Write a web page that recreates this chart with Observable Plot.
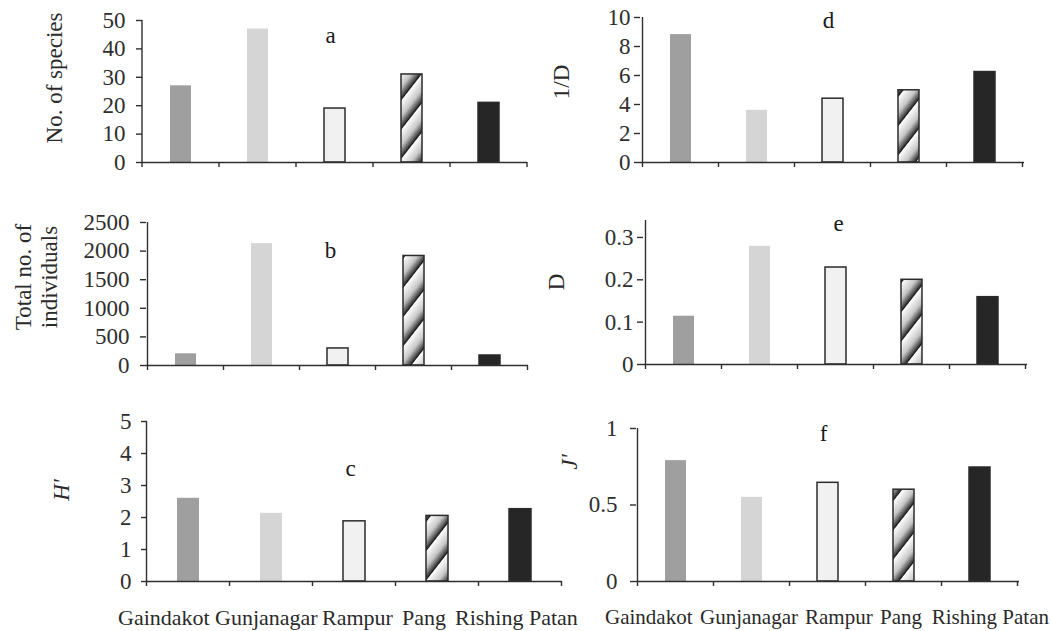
<!DOCTYPE html>
<html>
<head>
<meta charset="utf-8">
<script src="https://cdn.jsdelivr.net/npm/d3@7"></script>
<script src="https://cdn.jsdelivr.net/npm/@observablehq/plot@0.6"></script>
<style>
  body { margin: 0; background: #fff; }
  #chart { position: relative; width: 1051px; height: 631px; overflow: hidden; background: #fff;
           font-family: "Liberation Serif", "Times New Roman", serif; color: #2a2a2a; }
  .panel { position: absolute; }
  .ylab { position: absolute; transform: translate(-50%, -50%) rotate(-90deg); white-space: pre;
          font-size: 23px; line-height: 1.15; text-align: center; }
  .ylab.it { font-style: italic; }
  .xlab { position: absolute; top: 607px; line-height: 1; white-space: nowrap; }
</style>
</head>
<body>
<div id="chart"></div>
<script>
// ---- data ----
const sites = ["Gaindakot", "Gunjanagar", "Rampur", "Pang", "Rishing Patan"];
const speciesCount = [27, 47, 19, 31, 21];
const individualsTotal = [205, 2130, 298, 1915, 175];
const shannonH = [2.6, 2.13, 1.88, 2.05, 2.26];
const inverseSimpson = [8.82, 3.6, 4.4, 4.98, 6.24];
const simpsonD = [0.114, 0.279, 0.229, 0.2, 0.159];
const evennessJ = [0.79, 0.55, 0.645, 0.6, 0.745];

const ticksA = [0, 10, 20, 30, 40, 50];
const ticksB = [0, 500, 1000, 1500, 2000, 2500];
const ticksC = [0, 1, 2, 3, 4, 5];
const ticksD = [0, 2, 4, 6, 8, 10];
const ticksE = [0, 0.1, 0.2, 0.3];
const ticksF = [0, 0.5, 1];

const outlinedSites = ["Rampur", "Pang", "Rishing Patan"];

// ---- styling / layout ----
const baseFills = ["#9f9f9f", "#d5d5d5", "#f1f1f1", null, "#262626"];
const fillsFor = key => baseFills.map(f => f === null ? `url(#hatch-${key})` : f);

const panels = [
  {key: "a", values: speciesCount, domain: [0, 50], ticks: ticksA, label: "No. of species", italic: false,
   box: [0, 0, 540, 190], m: [20, 13, 28, 142], pad: 11, letter: [-4.5, 15], lab: [55, 78]},
  {key: "d", values: inverseSimpson, domain: [0, 10], ticks: ticksD, label: "1/D", italic: false,
   box: [540, 0, 511, 190], m: [17, 27, 28, 100], pad: 4, letter: [-4, 3], lab: [562, 82]},
  {key: "b", values: individualsTotal, domain: [0, 2500], ticks: ticksB, label: "Total no. of\nindividuals", italic: false,
   box: [0, 190, 540, 205], m: [32, 12, 30, 146], pad: 11, letter: [-7, 28], lab: [37, 277]},
  {key: "e", values: simpsonD, domain: [0, 0.34], ticks: ticksE, label: "D", italic: false,
   box: [540, 190, 511, 205], m: [30, 24, 31, 103], pad: 4, letter: [3, 3], lab: [557, 282]},
  {key: "c", values: shannonH, domain: [0, 5], ticks: ticksC, label: "H'", italic: true,
   box: [0, 395, 565, 200], m: [26, 3, 14, 147], pad: 10, letter: [-4.5, 47], lab: [62, 490]},
  {key: "f", values: evennessJ, domain: [0, 1], ticks: ticksF, label: "J'", italic: true,
   box: [565, 395, 486, 200], m: [33, 32, 14, 71], pad: 13, letter: [-4.5, 5], lab: [570, 462]}
];

// left edges of the category names printed under each column (null = flush right)
const xLabelRows = [
  {size: 22, lefts: [118, 215, 322, 402, 455]},
  {size: 21, lefts: [605, 700, 805, 880, null]}
];

const chart = document.getElementById("chart");

// axis line + boundary ticks between categories, derived from the band/linear scales
function categoryTicks(color) {
  return (index, scales) => {
    const x = scales.x;
    const y0 = scales.y(0);
    const dom = x.domain();
    const gap = x.step() - x.bandwidth();
    const g = d3.create("svg:g").attr("stroke", color).attr("stroke-width", 1.4);
    const xs = dom.map(d => x(d) - gap / 2);
    xs.push(x(dom[dom.length - 1]) + x.bandwidth() + gap / 2);
    for (const px of xs) {
      g.append("line").attr("x1", px).attr("x2", px).attr("y1", y0).attr("y2", y0 + 5);
    }
    const [ya, yb] = scales.y.range();
    g.append("line").attr("x1", xs[0]).attr("x2", xs[0]).attr("y1", ya).attr("y2", yb);
    return g.node();
  };
}

for (const p of panels) {
  const data = sites.map((s, i) => ({site: s, value: p.values[i]}));
  const [left, top, w, h] = p.box;
  const [mt, mr, mb, ml] = p.m;
  const svg = Plot.plot({
    width: w, height: h,
    marginTop: mt, marginRight: mr, marginBottom: mb, marginLeft: ml,
    style: {fontFamily: "Liberation Serif, Times New Roman, serif", fontSize: "23px", color: "#2e2e2e", background: "transparent", overflow: "visible"},
    x: {domain: sites, paddingInner: 0.73, paddingOuter: 0.365, axis: null},
    y: {domain: p.domain},
    color: {type: "ordinal", domain: sites, range: fillsFor(p.key)},
    marks: [
      Plot.barY(data, {x: "site", y: "value", fill: "site"}),
      Plot.barY(data.filter(d => outlinedSites.includes(d.site)), {x: "site", y: "value", fill: "none", stroke: "#2b2b2b", strokeWidth: 1.5}),
      Plot.ruleY([0], {stroke: "#2e2e2e", strokeWidth: 1.4}),
      Plot.axisY({ticks: p.ticks, tickSize: 6, tickPadding: p.pad, tickFormat: d3.format("~g"), label: null, fontSize: 23, strokeWidth: 1.4}),
      categoryTicks("#2e2e2e"),
      Plot.text([p.key], {frameAnchor: "top", lineAnchor: "middle", dx: p.letter[0], dy: p.letter[1], fontSize: 23, fill: "#1a1a1a"})
    ]
  });
  d3.select(svg).insert("defs", ":first-child").html(`
    <linearGradient id="grad-${p.key}" x1="0" y1="0" x2="0" y2="1">
      <stop offset="0" stop-color="#ffffff"/>
      <stop offset="0.55" stop-color="#c6c6c6"/>
      <stop offset="0.88" stop-color="#4a4a4a"/>
      <stop offset="1" stop-color="#0a0a0a"/>
    </linearGradient>
    <pattern id="hatch-${p.key}" patternUnits="userSpaceOnUse" width="40" height="18" patternTransform="rotate(-52)">
      <rect width="40" height="18" fill="url(#grad-${p.key})"/>
    </pattern>`);
  const holder = document.createElement("div");
  holder.className = "panel";
  holder.style.left = left + "px";
  holder.style.top = top + "px";
  holder.appendChild(svg);
  chart.appendChild(holder);

  const lab = document.createElement("div");
  lab.className = "ylab" + (p.italic ? " it" : "");
  lab.style.left = p.lab[0] + "px";
  lab.style.top = p.lab[1] + "px";
  lab.textContent = p.label;
  chart.appendChild(lab);
}

for (const row of xLabelRows) {
  sites.forEach((s, i) => {
    const el = document.createElement("div");
    el.className = "xlab";
    el.style.fontSize = row.size + "px";
    if (row.lefts[i] === null) el.style.right = "2px";
    else el.style.left = row.lefts[i] + "px";
    el.textContent = s;
    chart.appendChild(el);
  });
}
</script>
</body>
</html>
